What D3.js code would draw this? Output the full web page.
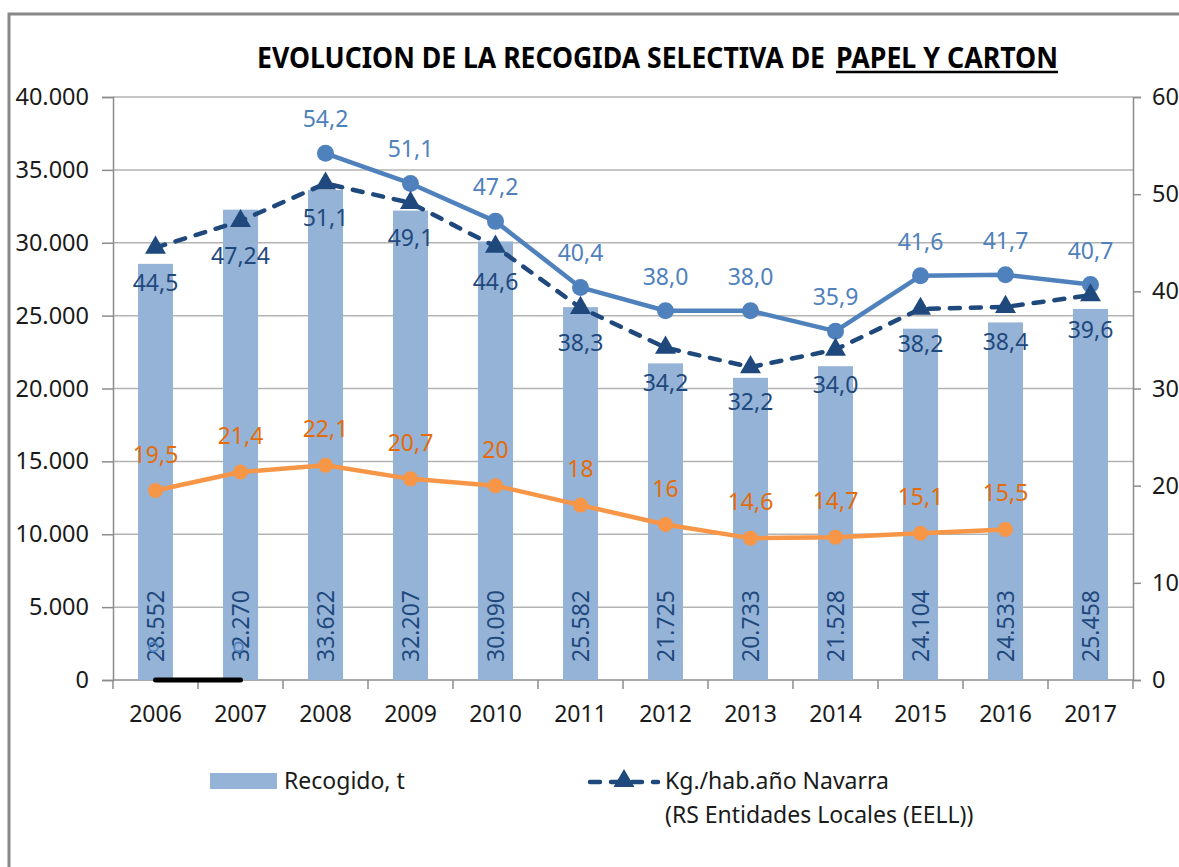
<!DOCTYPE html>
<html>
<head>
<meta charset="utf-8">
<script src="https://cdn.jsdelivr.net/npm/d3@7"></script>
<style>
  html, body { margin: 0; padding: 0; background: #fff; }
  svg { display: block; font-family: "Noto Sans", "DejaVu Sans", sans-serif; }
</style>
</head>
<body>
<svg id="chart" width="1179" height="867"></svg>
<script>
// ---------------- data ----------------
const years = ["2006","2007","2008","2009","2010","2011","2012","2013","2014","2015","2016","2017"];
const recogido = [28552, 32270, 33622, 32207, 30090, 25582, 21725, 20733, 21528, 24104, 24533, 25458];
const kgNavarra = [44.5, 47.24, 51.1, 49.1, 44.6, 38.3, 34.2, 32.2, 34.0, 38.2, 38.4, 39.6];
const kgLightYears = ["2008","2009","2010","2011","2012","2013","2014","2015","2016","2017"];
const kgLight = [54.2, 51.1, 47.2, 40.4, 38.0, 38.0, 35.9, 41.6, 41.7, 40.7];
const kgOrangeYears = ["2006","2007","2008","2009","2010","2011","2012","2013","2014","2015","2016"];
const kgOrange = [19.5, 21.4, 22.1, 20.7, 20, 18, 16, 14.6, 14.7, 15.1, 15.5];
const zeroYears = ["2006","2007"];
const zeroSeries = [0, 0];
const leftTicks = [0, 5000, 10000, 15000, 20000, 25000, 30000, 35000, 40000];
const rightTicks = [0, 10, 20, 30, 40, 50, 60];
const titleMain = "EVOLUCION DE LA RECOGIDA SELECTIVA DE";
const titleUnderlined = "PAPEL Y CARTON";
const legendBar = "Recogido, t";
const legendLine = ["Kg./hab.año Navarra", "(RS Entidades Locales (EELL))"];

// ---------------- setup ----------------
const es = d3.formatLocale({decimal: ",", thousands: ".", grouping: [3], currency: ["", " €"]});
const fmtThousands = es.format(",d");
const fmtDec = v => String(v).replace(".", ",");

const svg = d3.select("#chart");
const pLeft = 113, pRight = 1133, pTop = 97, pBottom = 680;

const x = d3.scaleBand().domain(years).range([pLeft, pRight]);
const yL = d3.scaleLinear().domain([0, 40000]).range([pBottom, pTop]);
const yR = d3.scaleLinear().domain([0, 60]).range([pBottom, pTop]);
const cx = d => x(d) + x.bandwidth() / 2;

const C = {
  bar: "#95B3D7", light: "#4F81BD", dark: "#1F497D", orange: "#F79646",
  orangeText: "#E46C0A", grid: "#B3B3B3", axis: "#8C8C8C", text: "#1a1a1a"
};

// outer frame
svg.append("path").attr("d", "M9,867 V14 H1179")
  .attr("fill", "none").attr("stroke", "#888").attr("stroke-width", 3);

// title (two parts, second underlined)
svg.append("text")
  .attr("x", 257).attr("y", 68)
  .attr("font-size", 28).attr("font-weight", "bold").attr("fill", "#000")
  .attr("textLength", 568).attr("lengthAdjust", "spacingAndGlyphs")
  .text(titleMain);
svg.append("text")
  .attr("x", 836).attr("y", 68)
  .attr("font-size", 28).attr("font-weight", "bold").attr("fill", "#000")
  .attr("textLength", 222).attr("lengthAdjust", "spacingAndGlyphs")
  .text(titleUnderlined);
svg.append("line").attr("x1", 836).attr("x2", 1058).attr("y1", 72).attr("y2", 72)
  .attr("stroke", "#000").attr("stroke-width", 2.5);

// gridlines
svg.append("g").selectAll("line").data(leftTicks.filter(d => d > 0)).join("line")
  .attr("x1", pLeft).attr("x2", pRight)
  .attr("y1", d => yL(d)).attr("y2", d => yL(d))
  .attr("stroke", C.grid).attr("stroke-width", 1.5);

// left axis
const gL = svg.append("g").attr("transform", `translate(${pLeft},0)`)
  .call(d3.axisLeft(yL).tickValues(leftTicks).tickFormat(fmtThousands).tickSize(11).tickPadding(13));
gL.selectAll("text").attr("font-size", 23.5).attr("fill", C.text).attr("font-family", "Noto Sans");
gL.selectAll("line, path").attr("stroke", C.axis).attr("stroke-width", 1.5);

// right axis
const gR = svg.append("g").attr("transform", `translate(${pRight},0)`)
  .call(d3.axisRight(yR).tickValues(rightTicks).tickFormat(d3.format("d")).tickSize(8).tickPadding(11));
gR.selectAll("text").attr("font-size", 23.5).attr("fill", C.text).attr("font-family", "Noto Sans");
gR.selectAll("line, path").attr("stroke", C.axis).attr("stroke-width", 1.5);

// bottom axis
const gB = svg.append("g").attr("transform", `translate(0,${pBottom})`)
  .call(d3.axisBottom(x).tickSize(0).tickPadding(26));
gB.select(".domain").remove();
gB.selectAll("text").attr("font-size", 23).attr("fill", C.text).attr("font-family", "Noto Sans");
svg.append("line").attr("x1", pLeft).attr("x2", pRight).attr("y1", pBottom).attr("y2", pBottom)
  .attr("stroke", C.axis).attr("stroke-width", 1.5);
const bounds = years.map(d => x(d)).concat([x.range()[1]]);
svg.append("g").selectAll("line").data(bounds).join("line")
  .attr("x1", d => d).attr("x2", d => d).attr("y1", pBottom).attr("y2", pBottom + 9)
  .attr("stroke", C.axis).attr("stroke-width", 1.5);

// bars
const barW = 35;
svg.append("g").selectAll("rect").data(years).join("rect")
  .attr("x", d => cx(d) - barW / 2).attr("width", barW)
  .attr("y", (d, i) => yL(recogido[i])).attr("height", (d, i) => pBottom - yL(recogido[i]))
  .attr("fill", C.bar);

// bar labels (rotated, inside base)
svg.append("g").selectAll("text").data(years).join("text")
  .attr("transform", d => `translate(${cx(d) + 8},${pBottom - 18}) rotate(-90)`)
  .attr("font-size", 23).attr("fill", C.dark)
  .text((d, i) => fmtThousands(recogido[i]));

// ghost markers in 2006/2007
svg.append("g").selectAll("circle").data(zeroYears).join("circle")
  .attr("cx", d => cx(d) - 2).attr("cy", pBottom - 33).attr("r", 4.5)
  .attr("fill", "none").attr("stroke", C.light).attr("stroke-width", 1.8);

// black zero line
const zeroPts = zeroYears.map((d, i) => [cx(d), yR(zeroSeries[i])]);
svg.append("path").attr("d", d3.line()(zeroPts))
  .attr("fill", "none").attr("stroke", "#000").attr("stroke-width", 5).attr("stroke-linecap", "round");

// orange line
const orangePts = kgOrangeYears.map((d, i) => [cx(d), yR(kgOrange[i])]);
svg.append("path").attr("d", d3.line()(orangePts))
  .attr("fill", "none").attr("stroke", C.orange).attr("stroke-width", 4.5).attr("stroke-linejoin", "round");
svg.append("g").selectAll("circle").data(orangePts).join("circle")
  .attr("cx", d => d[0]).attr("cy", d => d[1]).attr("r", 7.5).attr("fill", C.orange);

// light blue line
const lightPts = kgLightYears.map((d, i) => [cx(d), yR(kgLight[i])]);
svg.append("path").attr("d", d3.line()(lightPts))
  .attr("fill", "none").attr("stroke", C.light).attr("stroke-width", 4.5).attr("stroke-linejoin", "round");
svg.append("g").selectAll("circle").data(lightPts).join("circle")
  .attr("cx", d => d[0]).attr("cy", d => d[1]).attr("r", 8.5).attr("fill", C.light);

// dark dashed line with triangles
const darkPts = years.map((d, i) => [cx(d), yR(kgNavarra[i])]);
svg.append("path").attr("d", d3.line()(darkPts))
  .attr("fill", "none").attr("stroke", C.dark).attr("stroke-width", 4.5)
  .attr("stroke-dasharray", "10,11").attr("stroke-linecap", "round");
const tri = d3.symbol().type(d3.symbolTriangle).size(190);
svg.append("g").selectAll("path").data(darkPts).join("path")
  .attr("transform", d => `translate(${d[0]},${d[1]})`).attr("d", tri).attr("fill", C.dark);

// data labels
function labels(pts, texts, color, dy) {
  svg.append("g").selectAll("text").data(pts).join("text")
    .attr("x", d => d[0]).attr("y", d => d[1] + dy)
    .attr("text-anchor", "middle").attr("font-size", 23).attr("fill", color)
    .text((d, i) => texts[i]);
}
labels(orangePts, kgOrange.map(fmtDec), C.orangeText, -28);
labels(lightPts, kgLight.map(v => fmtDec(v.toFixed(1))), C.light, -26);
labels(darkPts, kgNavarra.map(v => fmtDec(v === 47.24 ? "47.24" : v.toFixed(1))), C.dark, 43);

// legend
svg.append("rect").attr("x", 210).attr("y", 773).attr("width", 67).attr("height", 16).attr("fill", C.bar);
svg.append("text").attr("x", 284).attr("y", 789).attr("font-size", 23).attr("fill", C.text).text(legendBar);
svg.append("line").attr("x1", 590).attr("x2", 658).attr("y1", 782).attr("y2", 782)
  .attr("stroke", C.dark).attr("stroke-width", 4.5).attr("stroke-dasharray", "10,11").attr("stroke-linecap", "round");
svg.append("path").attr("transform", "translate(624,781)").attr("d", tri).attr("fill", C.dark);
svg.append("text").attr("x", 665).attr("y", 789).attr("font-size", 23).attr("fill", C.text).text(legendLine[0]);
svg.append("text").attr("x", 665).attr("y", 823).attr("font-size", 23).attr("fill", C.text).text(legendLine[1]);
</script>
</body>
</html>
